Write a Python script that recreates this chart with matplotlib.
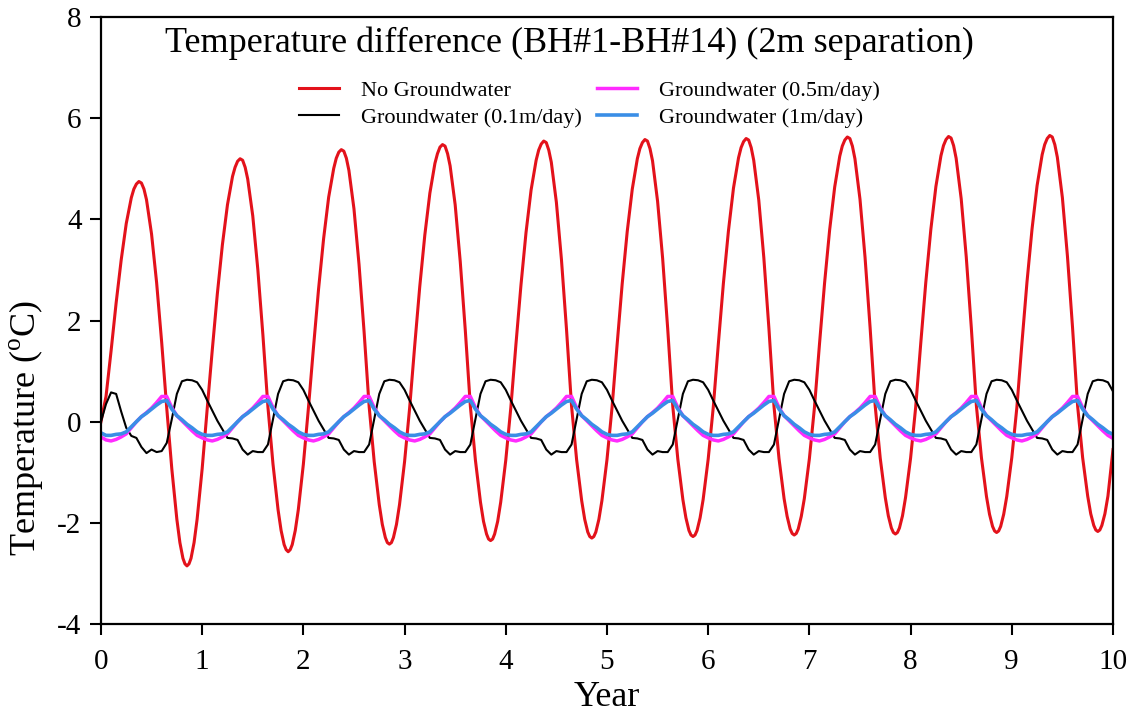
import numpy as np
import matplotlib.pyplot as plt

plt.rcParams['font.family'] = ['Liberation Serif', 'DejaVu Serif']
plt.rcParams['mathtext.fontset'] = 'custom'
plt.rcParams['mathtext.rm'] = 'Liberation Serif'
plt.rcParams['axes.unicode_minus'] = False

# sample positions inside each year for the red curve (denser near peak / trough)
red_phase = [0.00, 0.05, 0.10, 0.15, 0.20, 0.25, 0.30, 0.325, 0.35, 0.375, 0.40, 0.425, 0.45,
             0.50, 0.55, 0.60, 0.65, 0.70, 0.75, 0.78, 0.81, 0.83, 0.85, 0.87, 0.89, 0.92, 0.95]

# No groundwater, one row per year
red_rows = [
    [0.00, 0.50, 1.40, 2.35, 3.20, 3.92, 4.43, 4.60, 4.70, 4.75, 4.72, 4.60, 4.39, 3.71, 2.75, 1.57, 0.27, -0.93, -1.93, -2.39, -2.70, -2.81, -2.85, -2.81, -2.70, -2.39, -1.93],
    [-0.93, 0.26, 1.42, 2.53, 3.50, 4.29, 4.85, 5.03, 5.15, 5.20, 5.17, 5.03, 4.80, 4.07, 3.01, 1.72, 0.29, -0.84, -1.74, -2.15, -2.43, -2.53, -2.57, -2.53, -2.43, -2.15, -1.74],
    [-0.84, 0.27, 1.47, 2.62, 3.62, 4.44, 5.01, 5.21, 5.33, 5.38, 5.35, 5.21, 4.97, 4.21, 3.11, 1.78, 0.30, -0.79, -1.64, -2.03, -2.29, -2.39, -2.42, -2.39, -2.29, -2.03, -1.64],
    [-0.79, 0.27, 1.50, 2.67, 3.69, 4.52, 5.11, 5.30, 5.43, 5.48, 5.45, 5.30, 5.06, 4.29, 3.17, 1.81, 0.31, -0.76, -1.59, -1.97, -2.22, -2.32, -2.35, -2.32, -2.22, -1.97, -1.59],
    [-0.76, 0.28, 1.52, 2.70, 3.74, 4.58, 5.17, 5.37, 5.49, 5.55, 5.52, 5.37, 5.13, 4.34, 3.21, 1.83, 0.31, -0.75, -1.56, -1.93, -2.18, -2.27, -2.30, -2.27, -2.18, -1.93, -1.56],
    [-0.75, 0.28, 1.52, 2.72, 3.76, 4.60, 5.20, 5.40, 5.52, 5.58, 5.55, 5.40, 5.16, 4.36, 3.23, 1.84, 0.31, -0.74, -1.54, -1.90, -2.15, -2.24, -2.27, -2.24, -2.15, -1.90, -1.54],
    [-0.74, 0.28, 1.53, 2.73, 3.77, 4.62, 5.22, 5.42, 5.54, 5.60, 5.57, 5.42, 5.17, 4.38, 3.24, 1.85, 0.31, -0.73, -1.52, -1.87, -2.12, -2.21, -2.24, -2.21, -2.12, -1.87, -1.52],
    [-0.73, 0.28, 1.54, 2.74, 3.79, 4.64, 5.25, 5.45, 5.57, 5.63, 5.60, 5.45, 5.20, 4.40, 3.25, 1.86, 0.32, -0.72, -1.50, -1.86, -2.10, -2.19, -2.22, -2.19, -2.10, -1.86, -1.50],
    [-0.72, 0.28, 1.54, 2.75, 3.80, 4.65, 5.26, 5.46, 5.58, 5.64, 5.61, 5.46, 5.21, 4.41, 3.26, 1.86, 0.32, -0.71, -1.48, -1.83, -2.07, -2.16, -2.19, -2.16, -2.07, -1.83, -1.48],
    [-0.71, 0.28, 1.55, 2.76, 3.81, 4.67, 5.28, 5.48, 5.60, 5.66, 5.63, 5.48, 5.23, 4.43, 3.27, 1.87, 0.32, -0.71, -1.47, -1.82, -2.05, -2.14, -2.17, -2.14, -2.05, -1.82, -1.47],
]
red_end = -0.55

# the groundwater curves are sampled every 0.05 year
gw_phase = [0.00, 0.05, 0.10, 0.15, 0.20, 0.25, 0.30, 0.35, 0.40, 0.45,
            0.50, 0.55, 0.60, 0.65, 0.70, 0.75, 0.80, 0.85, 0.90, 0.95]

# Groundwater 0.1 m/day
black_rows = [
    [0.00, 0.35, 0.58, 0.55, 0.20, -0.12, -0.28, -0.32, -0.50, -0.62, -0.55, -0.60, -0.58, -0.42, 0.05, 0.55, 0.80, 0.83, 0.82, 0.78],
    [0.63, 0.42, 0.22, 0.02, -0.15, -0.32, -0.33, -0.36, -0.55, -0.65, -0.58, -0.60, -0.60, -0.45, 0.05, 0.55, 0.80, 0.83, 0.82, 0.78],
    [0.63, 0.42, 0.22, 0.02, -0.15, -0.32, -0.33, -0.36, -0.55, -0.65, -0.58, -0.60, -0.60, -0.45, 0.05, 0.55, 0.80, 0.83, 0.82, 0.78],
    [0.63, 0.42, 0.22, 0.02, -0.15, -0.32, -0.33, -0.36, -0.55, -0.65, -0.58, -0.60, -0.60, -0.45, 0.05, 0.55, 0.80, 0.83, 0.82, 0.78],
    [0.63, 0.42, 0.22, 0.02, -0.15, -0.32, -0.33, -0.36, -0.55, -0.65, -0.58, -0.60, -0.60, -0.45, 0.05, 0.55, 0.80, 0.83, 0.82, 0.78],
    [0.63, 0.42, 0.22, 0.02, -0.15, -0.32, -0.33, -0.36, -0.55, -0.65, -0.58, -0.60, -0.60, -0.45, 0.05, 0.55, 0.80, 0.83, 0.82, 0.78],
    [0.63, 0.42, 0.22, 0.02, -0.15, -0.32, -0.33, -0.36, -0.55, -0.65, -0.58, -0.60, -0.60, -0.45, 0.05, 0.55, 0.80, 0.83, 0.82, 0.78],
    [0.63, 0.42, 0.22, 0.02, -0.15, -0.32, -0.33, -0.36, -0.55, -0.65, -0.58, -0.60, -0.60, -0.45, 0.05, 0.55, 0.80, 0.83, 0.82, 0.78],
    [0.63, 0.42, 0.22, 0.02, -0.15, -0.32, -0.33, -0.36, -0.55, -0.65, -0.58, -0.60, -0.60, -0.45, 0.05, 0.55, 0.80, 0.83, 0.82, 0.78],
    [0.63, 0.42, 0.22, 0.02, -0.15, -0.32, -0.33, -0.36, -0.55, -0.65, -0.58, -0.60, -0.60, -0.45, 0.05, 0.55, 0.80, 0.83, 0.82, 0.78],
]
black_end = 0.6

# Groundwater 0.5 m/day
magenta_rows = [
    [-0.30, -0.36, -0.38, -0.35, -0.30, -0.24, -0.12, 0.00, 0.10, 0.18, 0.27, 0.38, 0.50, 0.50, 0.28, 0.12, 0.02, -0.08, -0.18, -0.27],
    [-0.32, -0.36, -0.38, -0.35, -0.30, -0.24, -0.12, 0.00, 0.10, 0.18, 0.27, 0.38, 0.50, 0.50, 0.28, 0.12, 0.02, -0.08, -0.18, -0.27],
    [-0.32, -0.36, -0.38, -0.35, -0.30, -0.24, -0.12, 0.00, 0.10, 0.18, 0.27, 0.38, 0.50, 0.50, 0.28, 0.12, 0.02, -0.08, -0.18, -0.27],
    [-0.32, -0.36, -0.38, -0.35, -0.30, -0.24, -0.12, 0.00, 0.10, 0.18, 0.27, 0.38, 0.50, 0.50, 0.28, 0.12, 0.02, -0.08, -0.18, -0.27],
    [-0.32, -0.36, -0.38, -0.35, -0.30, -0.24, -0.12, 0.00, 0.10, 0.18, 0.27, 0.38, 0.50, 0.50, 0.28, 0.12, 0.02, -0.08, -0.18, -0.27],
    [-0.32, -0.36, -0.38, -0.35, -0.30, -0.24, -0.12, 0.00, 0.10, 0.18, 0.27, 0.38, 0.50, 0.50, 0.28, 0.12, 0.02, -0.08, -0.18, -0.27],
    [-0.32, -0.36, -0.38, -0.35, -0.30, -0.24, -0.12, 0.00, 0.10, 0.18, 0.27, 0.38, 0.50, 0.50, 0.28, 0.12, 0.02, -0.08, -0.18, -0.27],
    [-0.32, -0.36, -0.38, -0.35, -0.30, -0.24, -0.12, 0.00, 0.10, 0.18, 0.27, 0.38, 0.50, 0.50, 0.28, 0.12, 0.02, -0.08, -0.18, -0.27],
    [-0.32, -0.36, -0.38, -0.35, -0.30, -0.24, -0.12, 0.00, 0.10, 0.18, 0.27, 0.38, 0.50, 0.50, 0.28, 0.12, 0.02, -0.08, -0.18, -0.27],
    [-0.32, -0.36, -0.38, -0.35, -0.30, -0.24, -0.12, 0.00, 0.10, 0.18, 0.27, 0.38, 0.50, 0.50, 0.28, 0.12, 0.02, -0.08, -0.18, -0.27],
]
magenta_end = -0.33

# Groundwater 1 m/day
blue_rows = [
    [-0.22, -0.27, -0.27, -0.25, -0.24, -0.20, -0.10, 0.00, 0.10, 0.17, 0.25, 0.33, 0.40, 0.42, 0.25, 0.12, 0.04, -0.05, -0.12, -0.20],
    [-0.25, -0.27, -0.27, -0.25, -0.24, -0.20, -0.10, 0.00, 0.10, 0.17, 0.25, 0.33, 0.40, 0.42, 0.25, 0.12, 0.04, -0.05, -0.12, -0.20],
    [-0.25, -0.27, -0.27, -0.25, -0.24, -0.20, -0.10, 0.00, 0.10, 0.17, 0.25, 0.33, 0.40, 0.42, 0.25, 0.12, 0.04, -0.05, -0.12, -0.20],
    [-0.25, -0.27, -0.27, -0.25, -0.24, -0.20, -0.10, 0.00, 0.10, 0.17, 0.25, 0.33, 0.40, 0.42, 0.25, 0.12, 0.04, -0.05, -0.12, -0.20],
    [-0.25, -0.27, -0.27, -0.25, -0.24, -0.20, -0.10, 0.00, 0.10, 0.17, 0.25, 0.33, 0.40, 0.42, 0.25, 0.12, 0.04, -0.05, -0.12, -0.20],
    [-0.25, -0.27, -0.27, -0.25, -0.24, -0.20, -0.10, 0.00, 0.10, 0.17, 0.25, 0.33, 0.40, 0.42, 0.25, 0.12, 0.04, -0.05, -0.12, -0.20],
    [-0.25, -0.27, -0.27, -0.25, -0.24, -0.20, -0.10, 0.00, 0.10, 0.17, 0.25, 0.33, 0.40, 0.42, 0.25, 0.12, 0.04, -0.05, -0.12, -0.20],
    [-0.25, -0.27, -0.27, -0.25, -0.24, -0.20, -0.10, 0.00, 0.10, 0.17, 0.25, 0.33, 0.40, 0.42, 0.25, 0.12, 0.04, -0.05, -0.12, -0.20],
    [-0.25, -0.27, -0.27, -0.25, -0.24, -0.20, -0.10, 0.00, 0.10, 0.17, 0.25, 0.33, 0.40, 0.42, 0.25, 0.12, 0.04, -0.05, -0.12, -0.20],
    [-0.25, -0.27, -0.27, -0.25, -0.24, -0.20, -0.10, 0.00, 0.10, 0.17, 0.25, 0.33, 0.40, 0.42, 0.25, 0.12, 0.04, -0.05, -0.12, -0.20],
]
blue_end = -0.25

labels = ["No Groundwater", "Groundwater (0.1m/day)", "Groundwater (0.5m/day)", "Groundwater (1m/day)"]
x_ticks = list(range(0, 11))
y_ticks = [-4, -2, 0, 2, 4, 6, 8]


def series(phase, rows, end):
    years = len(rows)
    t = np.concatenate([yr + np.array(phase) for yr in range(years)])
    return np.append(t, years), np.append(np.concatenate(rows), end)


fig = plt.figure(figsize=(11.28, 7.14), dpi=100)
ax = fig.add_axes([0.0895, 0.126, 0.8972, 0.850])

ax.plot(*series(red_phase, red_rows, red_end), color="#e3121b", lw=2.2, label=labels[0])
ax.plot(*series(gw_phase, black_rows, black_end), color="black", lw=1.5, label=labels[1])
ax.plot(*series(gw_phase, magenta_rows, magenta_end), color="#ff2bff", lw=2.5, label=labels[2])
ax.plot(*series(gw_phase, blue_rows, blue_end), color="#3a8ee6", lw=2.6, label=labels[3])

ax.set_xlim(0, 10)
ax.set_ylim(-4, 8)
ax.set_xticks(x_ticks)
ax.set_yticks(y_ticks)
ax.tick_params(direction="out", length=8, width=1.5, labelsize=21)
ax.tick_params(axis="x", pad=10)
ax.tick_params(axis="y", pad=6)
for s in ax.spines.values():
    s.set_linewidth(1.6)

ax.set_xlabel("Year", fontsize=26, labelpad=4)
ax.set_ylabel(r"Temperature ($^{\mathrm{o}}$C)", fontsize=26)
ax.yaxis.set_label_coords(-0.055, 0.323)
ax.text(0.4634, 0.957, "Temperature difference (BH#1-BH#14) (2m separation)",
        transform=ax.transAxes, ha="center", va="center", fontsize=26)

ax.legend(ncol=2, loc="center", bbox_to_anchor=(0.483, 0.857), frameon=False,
          fontsize=16, handlelength=1.8, handletextpad=1.0, columnspacing=0.67,
          labelspacing=0.3)

fig.savefig("out.png", dpi=100)
